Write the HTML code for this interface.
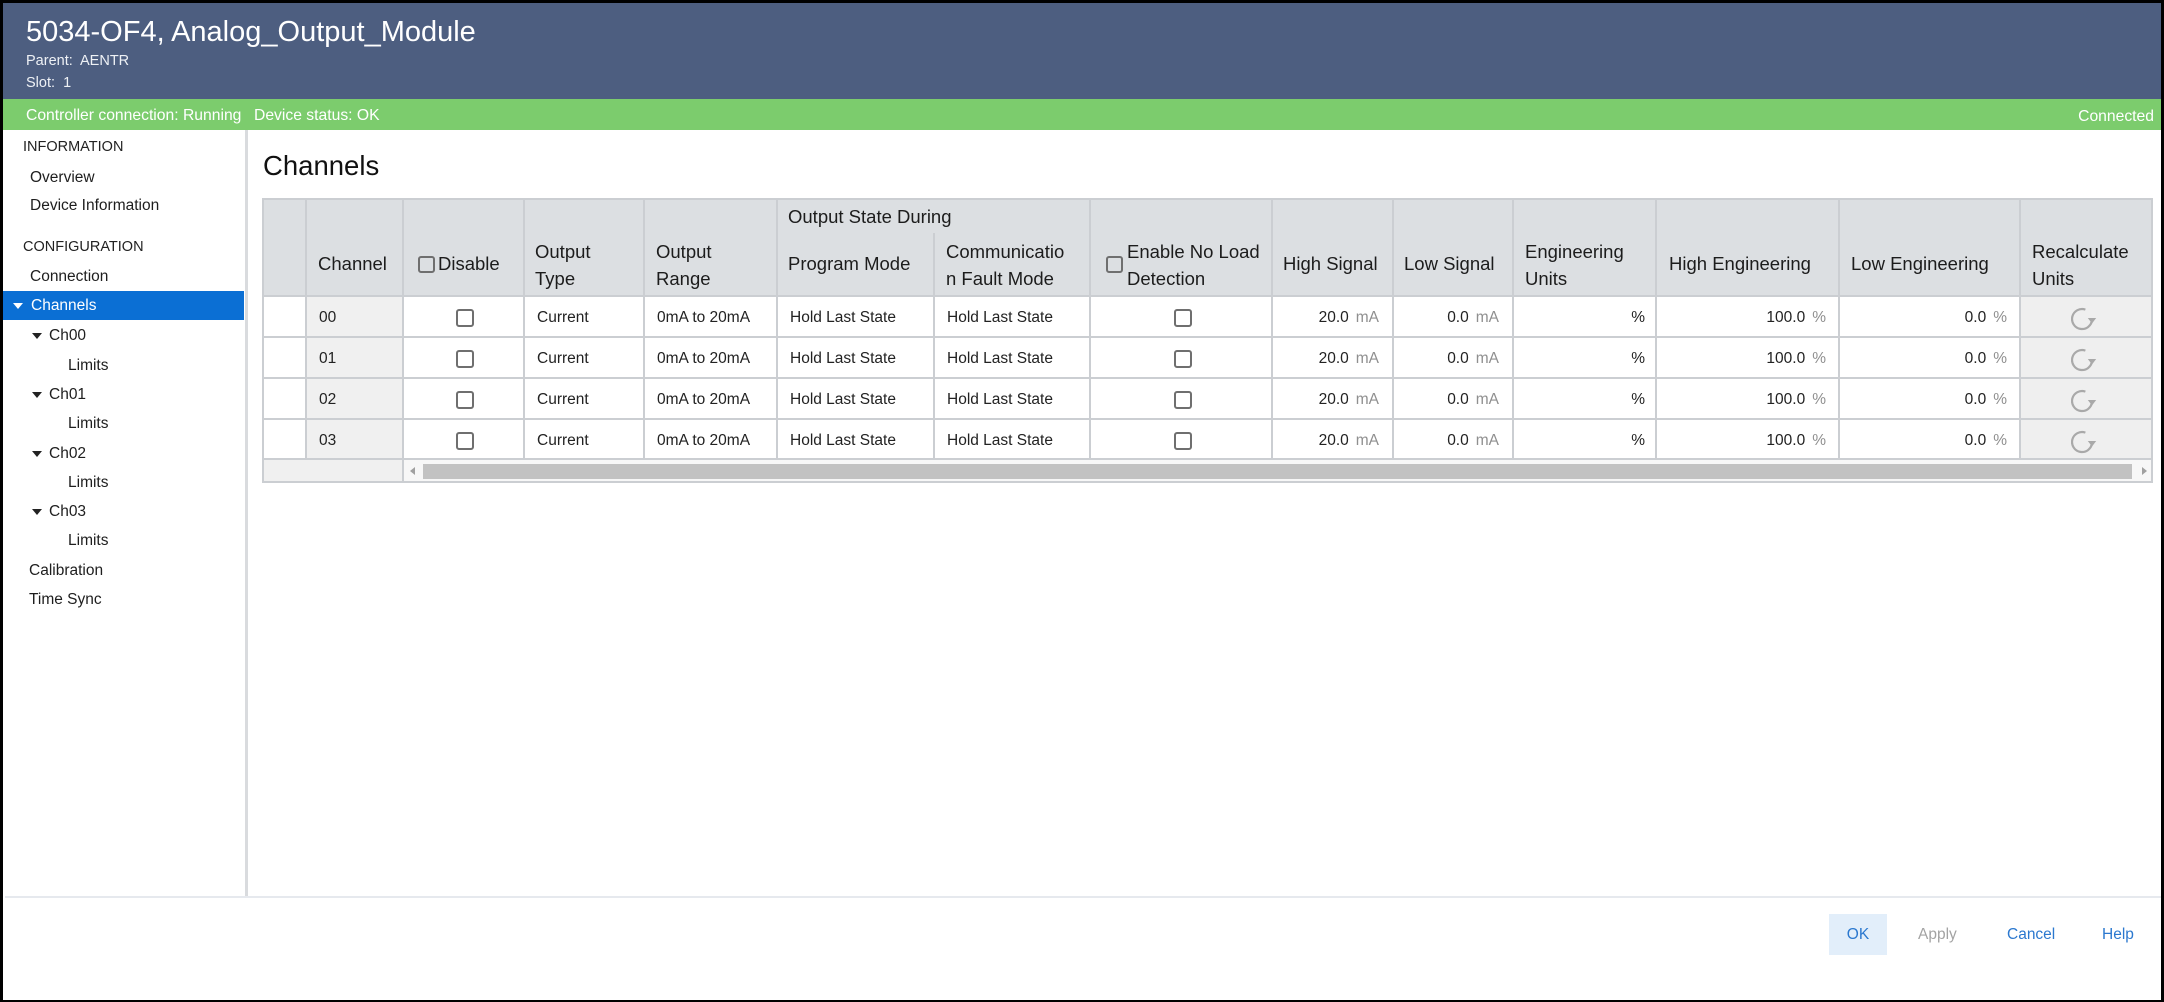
<!DOCTYPE html>
<html><head><meta charset="utf-8"><title>5034-OF4, Analog_Output_Module</title>
<style>
*{margin:0;padding:0;box-sizing:border-box}
html,body{width:2164px;height:1002px;overflow:hidden}
body{background:#000;position:relative;font-family:"Liberation Sans",Arial,sans-serif;color:#1e1e1e}
.a{position:absolute;white-space:nowrap}
.sb{font-size:15.5px;height:24px;line-height:24px;color:#1e1e1e}
.sec{font-size:14.5px;height:24px;line-height:24px;color:#222}
.tri{position:absolute;width:0;height:0;border-left:5px solid transparent;border-right:5px solid transparent;border-top:6px solid #222}
#tbl{position:absolute;left:262px;top:198px;width:1893px;height:287px}
.vl{position:absolute;width:2px;background:#cbced2}
.hl{position:absolute;height:2px;left:0;width:1891px;background:#cbced2}
.h{position:absolute;white-space:nowrap;font-size:18.5px;line-height:27px;color:#1c1c1c}
.d{position:absolute;white-space:nowrap;font-size:15.5px;line-height:24px;height:24px;color:#222}
.r{text-align:right}
.u{color:#8f8f8f;margin-left:7px}
.cb{position:absolute;width:18px;height:18px;border:2px solid #6f6f6f;border-radius:3px;background:#fff}
.hcb{position:absolute;width:17px;height:17px;border:2px solid #6f6f6f;border-radius:3px}
.ic{position:absolute}
</style></head><body>
<!-- window -->
<div class="a" style="left:3px;top:3px;width:2158px;height:997px;background:#fff"></div>
<!-- header -->
<div class="a" style="left:3px;top:3px;width:2158px;height:96px;background:#4d5e80"></div>
<div class="a" style="left:26px;top:14px;font-size:29px;line-height:36px;color:#fff">5034-OF4, Analog_Output_Module</div>
<div class="a" style="left:26px;top:51px;font-size:14.5px;line-height:20px;color:#eef1f5">Parent:&nbsp; AENTR</div>
<div class="a" style="left:26px;top:73px;font-size:14.5px;line-height:20px;color:#eef1f5">Slot:&nbsp; 1</div>
<!-- status bar -->
<div class="a" style="left:3px;top:99px;width:2158px;height:31px;background:#7ccc6d"></div>
<div class="a" style="left:26px;top:106px;font-size:15.7px;line-height:20px;color:#fff">Controller connection: Running</div>
<div class="a" style="left:254px;top:106px;font-size:15.7px;line-height:20px;color:#fff">Device status: OK</div>
<div class="a r" style="left:1900px;top:107px;width:254px;font-size:15.7px;line-height:20px;color:#fff">Connected</div>

<!-- sidebar -->
<div class="a" style="left:245px;top:130px;width:3px;height:767px;background:#d9dbde"></div>
<div class="a sec" style="left:23px;top:135px">INFORMATION</div>
<div class="a sb" style="left:30px;top:166px">Overview</div>
<div class="a sb" style="left:30px;top:194px">Device Information</div>
<div class="a sec" style="left:23px;top:235px">CONFIGURATION</div>
<div class="a sb" style="left:30px;top:265px">Connection</div>
<div class="a" style="left:3px;top:291px;width:241px;height:29px;background:#0b6fd4"></div>
<div class="tri" style="left:13px;top:303px;border-top-color:#fff"></div>
<div class="a sb" style="left:31px;top:294px;color:#fff">Channels</div>
<div class="tri" style="left:32px;top:333px"></div>
<div class="a sb" style="left:49px;top:324px">Ch00</div>
<div class="a sb" style="left:68px;top:354px">Limits</div>
<div class="tri" style="left:32px;top:392px"></div>
<div class="a sb" style="left:49px;top:383px">Ch01</div>
<div class="a sb" style="left:68px;top:412px">Limits</div>
<div class="tri" style="left:32px;top:451px"></div>
<div class="a sb" style="left:49px;top:442px">Ch02</div>
<div class="a sb" style="left:68px;top:471px">Limits</div>
<div class="tri" style="left:32px;top:509px"></div>
<div class="a sb" style="left:49px;top:500px">Ch03</div>
<div class="a sb" style="left:68px;top:529px">Limits</div>
<div class="a sb" style="left:29px;top:559px">Calibration</div>
<div class="a sb" style="left:29px;top:588px">Time Sync</div>

<!-- heading -->
<div class="a" style="left:263px;top:149px;font-size:27.5px;line-height:34px;color:#111">Channels</div>

<!-- table -->
<div id="tbl">
  <!-- backgrounds -->
  <div class="a" style="left:0;top:0;width:1891px;height:98px;background:#dcdfe2"></div>
  <div class="a" style="left:43px;top:98px;width:97px;height:163px;background:#f0f0f0"></div>
  <div class="a" style="left:1757px;top:98px;width:134px;height:163px;background:#efefef"></div>
  <div class="a" style="left:0;top:261px;width:140px;height:24px;background:#f0f0f0"></div>
  <div class="a" style="left:140px;top:261px;width:1751px;height:24px;background:#f7f7f7"></div>
  <div class="a" style="left:161px;top:266px;width:1709px;height:15px;background:#c2c2c2"></div>
  <div class="a" style="left:148px;top:269px;width:0;height:0;border-top:4px solid transparent;border-bottom:4px solid transparent;border-right:5px solid #a0a0a0"></div>
  <div class="a" style="left:1880px;top:269px;width:0;height:0;border-top:4px solid transparent;border-bottom:4px solid transparent;border-left:5px solid #a0a0a0"></div>

  <!-- horizontal lines -->
  <div class="hl" style="top:0"></div>
  <div class="hl" style="top:97px"></div>
  <div class="hl" style="top:138px"></div>
  <div class="hl" style="top:179px"></div>
  <div class="hl" style="top:220px"></div>
  <div class="hl" style="top:260px"></div>
  <div class="hl" style="top:283px"></div>
  <!-- vertical lines -->
  <div class="vl" style="left:0;top:0;height:285px"></div>
  <div class="vl" style="left:43px;top:0;height:261px"></div>
  <div class="vl" style="left:140px;top:0;height:285px"></div>
  <div class="vl" style="left:261px;top:0;height:261px"></div>
  <div class="vl" style="left:381px;top:0;height:261px"></div>
  <div class="vl" style="left:514px;top:0;height:261px"></div>
  <div class="vl" style="left:671px;top:35px;height:226px"></div>
  <div class="vl" style="left:827px;top:0;height:261px"></div>
  <div class="vl" style="left:1009px;top:0;height:261px"></div>
  <div class="vl" style="left:1130px;top:0;height:261px"></div>
  <div class="vl" style="left:1250px;top:0;height:261px"></div>
  <div class="vl" style="left:1393px;top:0;height:261px"></div>
  <div class="vl" style="left:1576px;top:0;height:261px"></div>
  <div class="vl" style="left:1757px;top:0;height:261px"></div>
  <div class="vl" style="left:1889px;top:0;height:285px"></div>

  <!-- header texts -->
  <div class="h" style="left:56px;top:52px">Channel</div>
  <div class="hcb" style="left:156px;top:58px"></div>
  <div class="h" style="left:176px;top:52px">Disable</div>
  <div class="h" style="left:273px;top:40px">Output<br>Type</div>
  <div class="h" style="left:394px;top:40px">Output<br>Range</div>
  <div class="h" style="left:526px;top:5px">Output State During</div>
  <div class="h" style="left:526px;top:52px">Program Mode</div>
  <div class="h" style="left:684px;top:40px">Communicatio<br>n Fault Mode</div>
  <div class="hcb" style="left:844px;top:58px"></div>
  <div class="h" style="left:865px;top:40px">Enable No Load<br>Detection</div>
  <div class="h" style="left:1021px;top:52px">High Signal</div>
  <div class="h" style="left:1142px;top:52px">Low Signal</div>
  <div class="h" style="left:1263px;top:40px">Engineering<br>Units</div>
  <div class="h" style="left:1407px;top:52px">High Engineering</div>
  <div class="h" style="left:1589px;top:52px">Low Engineering</div>
  <div class="h" style="left:1770px;top:40px">Recalculate<br>Units</div>

  <!-- row 1 -->
  <div class="d" style="left:57px;top:108px">00</div>
  <div class="cb" style="left:194px;top:111px"></div>
  <div class="d" style="left:275px;top:108px">Current</div>
  <div class="d" style="left:395px;top:108px">0mA to 20mA</div>
  <div class="d" style="left:528px;top:108px">Hold Last State</div>
  <div class="d" style="left:685px;top:108px">Hold Last State</div>
  <div class="cb" style="left:912px;top:111px"></div>
  <div class="d r" style="left:1009px;width:108px;top:108px">20.0<span class="u">mA</span></div>
  <div class="d r" style="left:1130px;width:107px;top:108px">0.0<span class="u">mA</span></div>
  <div class="d r" style="left:1250px;width:133px;top:108px">%</div>
  <div class="d r" style="left:1393px;width:171px;top:108px">100.0<span class="u">%</span></div>
  <div class="d r" style="left:1576px;width:169px;top:108px">0.0<span class="u">%</span></div>
  <svg class="ic" style="left:1809px;top:109px" width="32" height="24" viewBox="0 0 32 24"><path d="M14.4 2.6 A10 10 0 1 0 21 12.9" fill="none" stroke="#a9a9a9" stroke-width="2.2"/><path d="M16.8 11 L25.2 11 L21 16.5 Z" fill="#a9a9a9"/></svg>

  <!-- row 2 -->
  <div class="d" style="left:57px;top:149px">01</div>
  <div class="cb" style="left:194px;top:152px"></div>
  <div class="d" style="left:275px;top:149px">Current</div>
  <div class="d" style="left:395px;top:149px">0mA to 20mA</div>
  <div class="d" style="left:528px;top:149px">Hold Last State</div>
  <div class="d" style="left:685px;top:149px">Hold Last State</div>
  <div class="cb" style="left:912px;top:152px"></div>
  <div class="d r" style="left:1009px;width:108px;top:149px">20.0<span class="u">mA</span></div>
  <div class="d r" style="left:1130px;width:107px;top:149px">0.0<span class="u">mA</span></div>
  <div class="d r" style="left:1250px;width:133px;top:149px">%</div>
  <div class="d r" style="left:1393px;width:171px;top:149px">100.0<span class="u">%</span></div>
  <div class="d r" style="left:1576px;width:169px;top:149px">0.0<span class="u">%</span></div>
  <svg class="ic" style="left:1809px;top:150px" width="32" height="24" viewBox="0 0 32 24"><path d="M14.4 2.6 A10 10 0 1 0 21 12.9" fill="none" stroke="#a9a9a9" stroke-width="2.2"/><path d="M16.8 11 L25.2 11 L21 16.5 Z" fill="#a9a9a9"/></svg>

  <!-- row 3 -->
  <div class="d" style="left:57px;top:190px">02</div>
  <div class="cb" style="left:194px;top:193px"></div>
  <div class="d" style="left:275px;top:190px">Current</div>
  <div class="d" style="left:395px;top:190px">0mA to 20mA</div>
  <div class="d" style="left:528px;top:190px">Hold Last State</div>
  <div class="d" style="left:685px;top:190px">Hold Last State</div>
  <div class="cb" style="left:912px;top:193px"></div>
  <div class="d r" style="left:1009px;width:108px;top:190px">20.0<span class="u">mA</span></div>
  <div class="d r" style="left:1130px;width:107px;top:190px">0.0<span class="u">mA</span></div>
  <div class="d r" style="left:1250px;width:133px;top:190px">%</div>
  <div class="d r" style="left:1393px;width:171px;top:190px">100.0<span class="u">%</span></div>
  <div class="d r" style="left:1576px;width:169px;top:190px">0.0<span class="u">%</span></div>
  <svg class="ic" style="left:1809px;top:191px" width="32" height="24" viewBox="0 0 32 24"><path d="M14.4 2.6 A10 10 0 1 0 21 12.9" fill="none" stroke="#a9a9a9" stroke-width="2.2"/><path d="M16.8 11 L25.2 11 L21 16.5 Z" fill="#a9a9a9"/></svg>

  <!-- row 4 -->
  <div class="d" style="left:57px;top:231px">03</div>
  <div class="cb" style="left:194px;top:234px"></div>
  <div class="d" style="left:275px;top:231px">Current</div>
  <div class="d" style="left:395px;top:231px">0mA to 20mA</div>
  <div class="d" style="left:528px;top:231px">Hold Last State</div>
  <div class="d" style="left:685px;top:231px">Hold Last State</div>
  <div class="cb" style="left:912px;top:234px"></div>
  <div class="d r" style="left:1009px;width:108px;top:231px">20.0<span class="u">mA</span></div>
  <div class="d r" style="left:1130px;width:107px;top:231px">0.0<span class="u">mA</span></div>
  <div class="d r" style="left:1250px;width:133px;top:231px">%</div>
  <div class="d r" style="left:1393px;width:171px;top:231px">100.0<span class="u">%</span></div>
  <div class="d r" style="left:1576px;width:169px;top:231px">0.0<span class="u">%</span></div>
  <svg class="ic" style="left:1809px;top:232px" width="32" height="24" viewBox="0 0 32 24"><path d="M14.4 2.6 A10 10 0 1 0 21 12.9" fill="none" stroke="#a9a9a9" stroke-width="2.2"/><path d="M16.8 11 L25.2 11 L21 16.5 Z" fill="#a9a9a9"/></svg>
</div>

<!-- footer -->
<div class="a" style="left:5px;top:896px;width:2156px;height:2px;background:#e6e9ee"></div>
<div class="a" style="left:1829px;top:914px;width:58px;height:41px;background:#e2eefa;font-size:15.5px;line-height:41px;text-align:center;color:#2b78cf">OK</div>
<div class="a" style="left:1918px;top:923px;font-size:15.5px;line-height:24px;color:#a3a3a3">Apply</div>
<div class="a" style="left:2007px;top:923px;font-size:15.5px;line-height:24px;color:#2b78cf">Cancel</div>
<div class="a" style="left:2102px;top:923px;font-size:15.5px;line-height:24px;color:#2b78cf">Help</div>
</body></html>
